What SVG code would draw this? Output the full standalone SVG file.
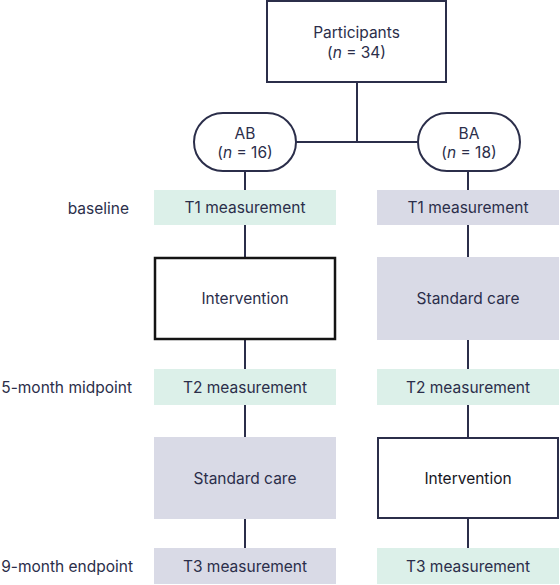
<svg xmlns="http://www.w3.org/2000/svg" width="560" height="585" viewBox="0 0 560 585">
<style>
text{font-family:Inter,"Noto Sans","Liberation Sans",sans-serif;font-size:15.5px;fill:#2b2e4a;text-anchor:middle;dominant-baseline:central}
.lbl{text-anchor:end}
.green{fill:#dcf0e9}
.grey{fill:#d9dae6}
.outline{fill:#ffffff;stroke:#2b2e4a;stroke-width:2}
.bold{fill:#ffffff;stroke:#141414;stroke-width:2.5}
.conn line{stroke:#2b2e4a;stroke-width:2}
</style>
<rect width="560" height="585" fill="#ffffff"/>
<g class="conn" id="connectors">
<line x1="357" y1="82" x2="357" y2="142"/>
<line x1="296" y1="142" x2="418" y2="142"/>
<line x1="245" y1="171" x2="245" y2="190"/>
<line x1="245" y1="225" x2="245" y2="258"/>
<line x1="245" y1="339" x2="245" y2="369"/>
<line x1="245" y1="405" x2="245" y2="437"/>
<line x1="245" y1="519" x2="245" y2="548"/>
<line x1="468" y1="171" x2="468" y2="190"/>
<line x1="468" y1="225" x2="468" y2="258"/>
<line x1="468" y1="339" x2="468" y2="369"/>
<line x1="468" y1="405" x2="468" y2="437"/>
<line x1="468" y1="519" x2="468" y2="548"/>
</g>
<g id="participants">
<rect class="outline" x="267" y="1" width="179" height="81"/>
<text x="356.5" y="32.5">Participants</text>
<text x="356.5" y="52">(<tspan font-style="italic">n</tspan> = 34)</text>
</g>
<g id="ab">
<rect class="outline" x="194" y="113" width="102" height="58" rx="29"/>
<text x="245" y="133">AB</text>
<text x="245" y="152">(<tspan font-style="italic">n</tspan> = 16)</text>
</g>
<g id="ba">
<rect class="outline" x="418" y="113" width="102" height="58" rx="29"/>
<text x="469" y="133">BA</text>
<text x="469" y="152">(<tspan font-style="italic">n</tspan> = 18)</text>
</g>
<g id="label-baseline"><text class="lbl" x="129" y="208">baseline</text></g>
<g id="label-midpoint"><text class="lbl" x="132" y="387">5-month midpoint</text></g>
<g id="label-endpoint"><text class="lbl" x="133" y="566">9-month endpoint</text></g>
<g id="ab-t1">
<rect class="green" x="154" y="190" width="182" height="35"/>
<text x="245" y="207.5">T1 measurement</text>
</g>
<g id="ab-intervention">
<rect class="bold" x="155" y="258" width="180" height="81"/>
<text x="245" y="298.5">Intervention</text>
</g>
<g id="ab-t2">
<rect class="green" x="154" y="369" width="182" height="36"/>
<text x="245" y="387">T2 measurement</text>
</g>
<g id="ab-standard">
<rect class="grey" x="154" y="437" width="182" height="82"/>
<text x="245" y="478">Standard care</text>
</g>
<g id="ab-t3">
<rect class="grey" x="154" y="548" width="182" height="36"/>
<text x="245" y="566">T3 measurement</text>
</g>
<g id="ba-t1">
<rect class="grey" x="377" y="190" width="182" height="35"/>
<text x="468" y="207.5">T1 measurement</text>
</g>
<g id="ba-standard">
<rect class="grey" x="377" y="257" width="182" height="83"/>
<text x="468" y="298.5">Standard care</text>
</g>
<g id="ba-t2">
<rect class="green" x="377" y="369" width="182" height="36"/>
<text x="468" y="387">T2 measurement</text>
</g>
<g id="ba-intervention">
<rect class="outline" x="378" y="438" width="180" height="80"/>
<text x="468" y="478" style="fill:#16161e">Intervention</text>
</g>
<g id="ba-t3">
<rect class="green" x="377" y="548" width="182" height="36"/>
<text x="468" y="566">T3 measurement</text>
</g>
</svg>
